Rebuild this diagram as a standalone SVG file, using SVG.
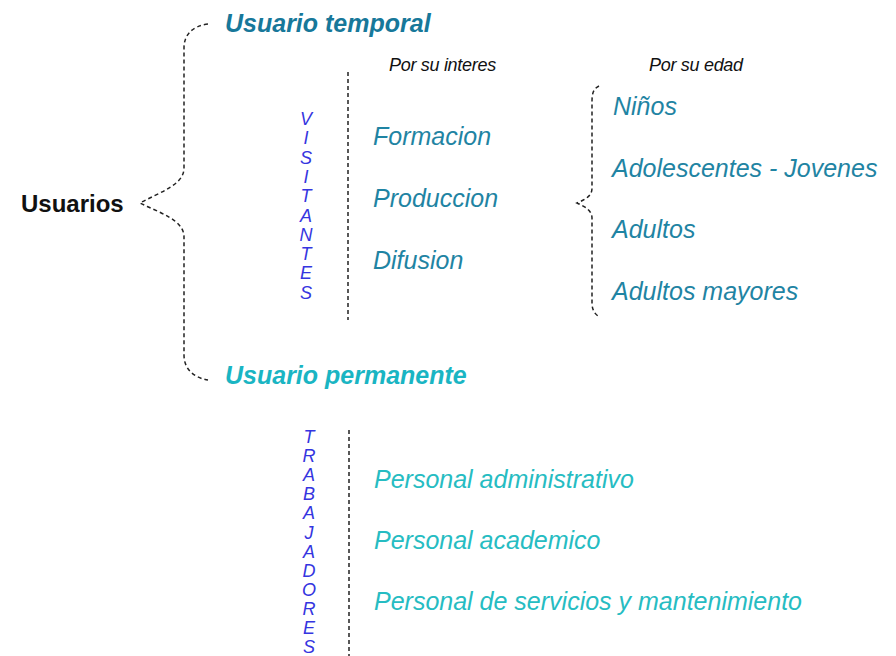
<svg xmlns="http://www.w3.org/2000/svg" width="896" height="656" viewBox="0 0 896 656">
<style>
text{font-family:"Liberation Sans",Arial,sans-serif;}
.root{font-size:24px;font-weight:bold;fill:#111;}
.head1{font-size:25px;font-weight:bold;font-style:italic;fill:#17789a;}
.head2{font-size:25px;font-weight:bold;font-style:italic;fill:#1ab5c3;}
.cap{font-size:18px;font-style:italic;fill:#111;letter-spacing:-0.3px;}
.item{font-size:25px;font-style:italic;fill:#1f84a3;}
.item2{font-size:25px;font-style:italic;fill:#26bcc2;}
.vert{font-size:18px;font-style:italic;fill:#3535e0;text-anchor:middle;}
.dash{fill:none;stroke:#222;stroke-width:1.5;stroke-dasharray:4 3;}
</style>
<g id="connectors">
<path class="dash" d="M208,24 C192,26 184,35 184,48 L184,168 C184,185 160,192 140,203 C160,213 184,220 184,237 L184,355 C184,370 195,378 208,380"/>
<path class="dash" d="M599,86 C593,89 592,94 592,102 L592,188 C592,196 586,199 577,203 C586,207 592,211 592,218 L592,303 C592,309 594,313 598,316"/>
<line class="dash" x1="348" y1="72" x2="348" y2="320"/>
<line class="dash" x1="349" y1="430" x2="349" y2="656"/>
</g>
<g id="usuarios"><text class="root" x="21" y="212">Usuarios</text></g>
<g id="usuario-temporal"><text class="head1" x="225" y="32">Usuario temporal</text></g>
<g id="usuario-permanente"><text class="head2" x="225" y="384">Usuario permanente</text></g>
<g id="por-su-interes"><text class="cap" x="389" y="71">Por su interes</text></g>
<g id="por-su-edad"><text class="cap" x="649" y="71">Por su edad</text></g>
<g id="visitantes"><text class="vert">
<tspan x="306" y="125">V</tspan><tspan x="306" y="144.3">I</tspan><tspan x="306" y="163.6">S</tspan><tspan x="306" y="182.9">I</tspan><tspan x="306" y="202.2">T</tspan><tspan x="306" y="221.5">A</tspan><tspan x="306" y="240.8">N</tspan><tspan x="306" y="260.1">T</tspan><tspan x="306" y="279.4">E</tspan><tspan x="306" y="298.7">S</tspan>
</text></g>
<g id="formacion"><text class="item" x="373" y="145">Formacion</text></g>
<g id="produccion"><text class="item" x="373" y="207">Produccion</text></g>
<g id="difusion"><text class="item" x="373" y="269">Difusion</text></g>
<g id="ninos"><text class="item" x="613" y="115">Niños</text></g>
<g id="adolescentes"><text class="item" x="612" y="177">Adolescentes - Jovenes</text></g>
<g id="adultos"><text class="item" x="612" y="238">Adultos</text></g>
<g id="adultos-mayores"><text class="item" x="612" y="300">Adultos mayores</text></g>
<g id="trabajadores"><text class="vert">
<tspan x="309" y="443">T</tspan><tspan x="309" y="462.1">R</tspan><tspan x="309" y="481.2">A</tspan><tspan x="309" y="500.3">B</tspan><tspan x="309" y="519.4">A</tspan><tspan x="309" y="538.5">J</tspan><tspan x="309" y="557.6">A</tspan><tspan x="309" y="576.7">D</tspan><tspan x="309" y="595.8">O</tspan><tspan x="309" y="614.9">R</tspan><tspan x="309" y="634">E</tspan><tspan x="309" y="653.1">S</tspan>
</text></g>
<g id="personal-administrativo"><text class="item2" x="374" y="488">Personal administrativo</text></g>
<g id="personal-academico"><text class="item2" x="374" y="549">Personal academico</text></g>
<g id="personal-servicios"><text class="item2" x="374" y="610">Personal de servicios y mantenimiento</text></g>
</svg>
